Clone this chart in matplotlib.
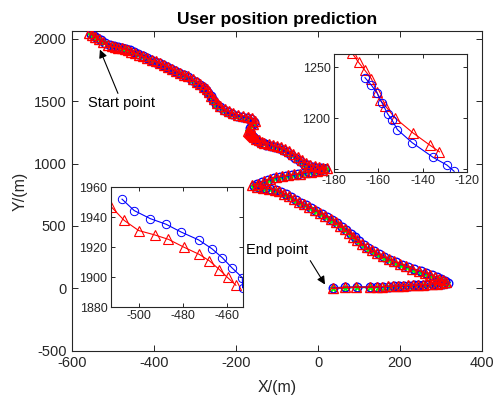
import matplotlib
matplotlib.use("Agg")
import matplotlib.pyplot as plt

plt.rcParams['font.family'] = ['Liberation Sans', 'DejaVu Sans']
plt.rcParams['axes.unicode_minus'] = False

# ---------------- data ----------------
# ground truth trajectory (green)
GX = [-556, -549, -541, -532, -522, -511, -500, -490, -480, -470, -460, -450, -440, -430, -420, -410,
      -400, -390, -380, -370, -360, -350, -340, -330, -320, -310, -300, -291, -283, -276, -270, -264,
      -258, -250, -242, -232, -222, -211, -199, -187, -175, -165, -158, -162, -169, -172, -168, -165,
      -162, -159, -156, -152, -146, -139, -131, -123, -113, -103, -93, -83, -73, -63, -53, -43, -33,
      -22, -11, 0, 10, 19,
      8, -5, -19, -33, -47, -61, -75, -90, -105, -119, -134, -148, -158,
      -146, -132, -118, -104, -92, -80, -68, -56, -44, -32, -19, -6, 7, 20, 33, 45, 56, 67, 78, 88,
      98, 109, 121, 134, 147, 160, 174, 188, 202, 217, 232, 248, 262, 275, 287, 298, 307, 315,
      306, 294, 282, 270, 258, 246, 234, 222, 210, 198, 186, 174, 160, 146, 127, 94, 66, 37]
GY = [2040, 2026, 2010, 1992, 1970, 1950, 1940, 1932, 1925, 1915, 1904, 1890, 1876, 1861, 1846, 1830,
      1814, 1800, 1786, 1768, 1752, 1736, 1721, 1705, 1688, 1668, 1646, 1624, 1606, 1588, 1562, 1534,
      1506, 1476, 1450, 1426, 1408, 1394, 1382, 1373, 1366, 1356, 1334, 1308, 1285, 1262, 1250, 1240,
      1230, 1220, 1210, 1200, 1187, 1174, 1162, 1152, 1143, 1134, 1123, 1107, 1088, 1068, 1046, 1020, 997,
      983, 972, 964, 959, 954,
      944, 936, 929, 922, 914, 906, 899, 892, 884, 868, 850, 833, 820,
      808, 800, 795, 783, 770, 752, 730, 702, 683, 664, 642, 618, 595, 572, 547, 520, 492, 464, 436, 405,
      375, 345, 318, 294, 270, 247, 226, 207, 188, 168, 150, 134, 119, 103, 86, 71, 57, 42,
      36, 33, 30, 28, 26, 24, 22, 20, 18, 16, 15, 13, 12, 10, 9, 8, 7, 2]

# prediction 1 (blue circles)
BX = [-554, -547, -539, -530, -519, -508, -497, -487, -478, -468, -458, -448, -438, -428, -418, -408,
      -398, -388, -378, -368, -358, -348, -338, -328, -318, -308, -298, -289, -281, -274, -268, -262,
      -256, -248, -240, -230, -220, -209, -197, -185, -173, -163, -156, -160, -167, -166, -163, -160,
      -158, -156, -154, -151, -145, -135, -129, -126, -115, -105, -95, -85, -75, -65, -55, -45, -35,
      -24, -13, -2, 8, 17,
      6, -7, -21, -35, -49, -63, -77, -92, -107, -121, -136, -150, -157,
      -144, -130, -116, -102, -90, -78, -66, -54, -42, -30, -17, -4, 9, 22, 35, 47, 58, 69, 80, 90,
      100, 111, 123, 136, 149, 162, 176, 190, 204, 219, 234, 250, 264, 277, 289, 300, 309, 316,
      305, 293, 281, 269, 257, 245, 233, 221, 209, 197, 185, 173, 159, 145, 127, 94, 66, 37]
BY = [2036, 2022, 2006, 1988, 1966, 1951, 1941, 1934, 1927, 1918, 1906, 1893, 1878, 1864, 1848, 1832,
      1816, 1803, 1788, 1771, 1755, 1739, 1722, 1707, 1690, 1671, 1649, 1627, 1609, 1590, 1565, 1537,
      1509, 1479, 1452, 1428, 1410, 1396, 1384, 1375, 1368, 1358, 1336, 1310, 1287, 1239, 1232, 1224,
      1214, 1204, 1198, 1189, 1176, 1161, 1154, 1148, 1144, 1136, 1125, 1109, 1090, 1070, 1048, 1022, 999,
      985, 974, 966, 961, 956,
      946, 938, 931, 924, 916, 908, 901, 894, 886, 870, 852, 835, 822,
      810, 802, 797, 785, 772, 754, 732, 705, 686, 667, 645, 621, 598, 575, 550, 523, 495, 467, 439, 408,
      378, 348, 321, 297, 273, 250, 229, 210, 191, 171, 153, 137, 122, 106, 89, 74, 60, 46,
      38, 35, 32, 30, 28, 26, 24, 22, 20, 18, 17, 15, 14, 12, 11, 10, 9, 4]

# prediction 2 (red triangles)
RX = [-558, -551, -543, -534, -524, -513, -503, -495, -487, -479, -472, -464, -456, -446, -436, -426,
      -416, -406, -396, -386, -376, -366, -356, -346, -336, -326, -316, -306, -296, -287, -279, -272,
      -266, -260, -254, -246, -238, -228, -218, -207, -195, -183, -171, -161, -154, -158, -165, -172,
      -169, -166, -163, -161, -159, -157, -152, -144, -137, -132, -120, -110, -100, -90, -80, -70, -60,
      -50, -40, -30, -19, -8, 3, 13, 22,
      10, -3, -17, -31, -45, -59, -73, -88, -103, -117, -132, -146, -160,
      -148, -134, -120, -106, -94, -82, -70, -58, -46, -34, -21, -8, 5, 18, 31, 43, 54, 65, 76, 86,
      96, 107, 119, 132, 145, 158, 172, 186, 200, 215, 230, 246, 260, 273, 285, 296, 305, 313,
      303, 291, 279, 267, 255, 243, 231, 219, 207, 195, 183, 171, 157, 143, 126, 93, 65, 36]
RY = [2048, 2030, 2016, 1996, 1975, 1947, 1938, 1931, 1928, 1925, 1915, 1905, 1894, 1885, 1870, 1858,
      1842, 1826, 1820, 1806, 1790, 1776, 1760, 1744, 1727, 1712, 1698, 1676, 1652, 1634, 1616, 1596,
      1572, 1544, 1516, 1486, 1460, 1438, 1418, 1404, 1392, 1382, 1374, 1364, 1340, 1314, 1292, 1263,
      1255, 1247, 1239, 1226, 1218, 1212, 1200, 1186, 1173, 1167, 1158, 1150, 1141, 1131, 1116, 1098, 1078,
      1056, 1030, 1006, 992, 981, 972, 967, 962,
      950, 942, 936, 930, 920, 914, 906, 898, 892, 876, 858, 840, 826,
      815, 806, 800, 790, 778, 760, 738, 712, 692, 672, 652, 628, 605, 582, 556, 530, 502, 474, 446, 415,
      385, 355, 328, 304, 280, 257, 236, 216, 197, 177, 159, 142, 127, 111, 94, 79, 64, 50,
      42, 38, 35, 32, 30, 28, 26, 24, 22, 20, 19, 17, 15, 13, 12, 10, 9, 0]

# inset 1 (upper right) zoom data
I1_RX = [-171.7, -168.9, -166.0, -163.1, -160.7, -159.3, -156.8, -152.4, -144.4, -136.6, -132.4]
I1_RY = [1263.5, 1254.8, 1246.8, 1238.7, 1225.8, 1217.7, 1211.9, 1200.0, 1185.5, 1173.2, 1166.8]
I1_BX = [-166.0, -163.1, -160.4, -158.2, -155.8, -153.9, -151.4, -144.7, -135.2, -129.1, -125.8]
I1_BY = [1239.7, 1232.3, 1224.2, 1214.5, 1204.2, 1198.4, 1188.7, 1175.8, 1161.3, 1153.9, 1147.7]

# inset 2 (lower left) zoom data
I2_RX = [-512.5, -506.5, -500.0, -492.8, -486.5, -479.4, -472.6, -468.0, -463.5, -459.8, -456.0]
I2_RY = [1947.0, 1937.7, 1931.0, 1928.1, 1925.1, 1919.8, 1915.1, 1910.8, 1905.0, 1899.7, 1894.5]
I2_BX = [-507.5, -502.0, -494.7, -487.6, -480.8, -472.8, -466.9, -462.1, -457.9, -453.1, -453.0]
I2_BY = [1951.9, 1944.3, 1938.9, 1935.2, 1930.0, 1924.7, 1918.9, 1912.8, 1906.3, 1899.6, 1892.9]

MAIN_XTICKS = [-600, -400, -200, 0, 200, 400]
MAIN_YTICKS = [-500, 0, 500, 1000, 1500, 2000]
I1_XTICKS = [-180, -160, -140, -120]
I1_YTICKS = [1150, 1200, 1250]
I2_XTICKS = [-500, -480, -460]
I2_YTICKS = [1880, 1900, 1920, 1940, 1960]

# ---------------- figure ----------------
AX_COLOR = '#262626'
fig = plt.figure(figsize=(4.95, 3.98), dpi=100)


def style(ax, fs, tl, xpad=2.5, ypad=2.5):
    for s in ax.spines.values():
        s.set_color(AX_COLOR)
        s.set_linewidth(0.8)
    ax.tick_params(direction='in', top=True, right=True, length=tl, width=0.7,
                   colors=AX_COLOR, labelsize=fs, labelcolor=AX_COLOR)
    ax.tick_params(axis='x', pad=xpad)
    ax.tick_params(axis='y', pad=ypad)


ax = fig.add_axes([0.1455, 0.1181, 0.8283, 0.8040])
ax.plot(GX, GY, '-', color='#00ff00', lw=1.2, marker='*', ms=5, zorder=2)
ax.plot(BX, BY, '-', color='#0000ff', lw=1.2, marker='o', ms=6.2, mfc='none', mew=1.0, zorder=3)
ax.plot(RX, RY, '-', color='#ff0000', lw=1.0, marker='^', ms=6.5, mfc='none', mew=1.0, zorder=4)
ax.set_xlim(-600, 400)
ax.set_ylim(-500, 2060)
ax.set_xticks(MAIN_XTICKS)
ax.set_yticks(MAIN_YTICKS)
style(ax, 10.5, 4, xpad=3.8, ypad=4)
ax.set_xlabel('X/(m)', fontsize=11.5, color=AX_COLOR, labelpad=7)
ax.set_ylabel('Y/(m)', fontsize=11.5, color=AX_COLOR, labelpad=4)
ax.set_title('User position prediction', fontsize=12.5, fontweight='bold', pad=5)

ax.annotate('', xy=(-532, 1911), xytext=(-488, 1561),
            arrowprops=dict(arrowstyle='-|>', color='black', lw=0.8,
                            mutation_scale=12, shrinkA=0, shrinkB=0))
ax.text(-480, 1481, 'Start point', fontsize=10.5, ha='center', va='center')
ax.annotate('', xy=(17, 32), xytext=(-19, 223),
            arrowprops=dict(arrowstyle='-|>', color='black', lw=0.8,
                            mutation_scale=12, shrinkA=0, shrinkB=0))
ax.text(-99, 310, 'End point', fontsize=10.5, ha='center', va='center')

ax.set_zorder(3)
ax.patch.set_alpha(0)

# inset 1
a1 = fig.add_axes([0.6747, 0.5678, 0.2687, 0.2965])
a1.plot(I1_RX, I1_RY, '-', color='#ff0000', lw=0.8, marker='^', ms=7, mfc='none', mew=0.8)
a1.plot(I1_BX, I1_BY, '-', color='#0000ff', lw=0.8, marker='o', ms=6, mfc='none', mew=0.7)
a1.set_xlim(-180, -120)
a1.set_ylim(1147, 1263)
a1.set_xticks(I1_XTICKS)
a1.set_yticks(I1_YTICKS)
style(a1, 9, 3)
a1.set_zorder(1)

# inset 2
a2 = fig.add_axes([0.2242, 0.2286, 0.2667, 0.3015])
a2.plot(I2_RX, I2_RY, '-', color='#ff0000', lw=0.8, marker='^', ms=7, mfc='none', mew=0.8)
a2.plot(I2_BX, I2_BY, '-', color='#0000ff', lw=0.8, marker='o', ms=6, mfc='none', mew=0.7)
a2.set_xlim(-512.5, -452.8)
a2.set_ylim(1880, 1960)
a2.set_xticks(I2_XTICKS)
a2.set_yticks(I2_YTICKS)
style(a2, 9, 3)
a2.set_zorder(1)

fig.savefig('out.png', dpi=100, facecolor='white')
